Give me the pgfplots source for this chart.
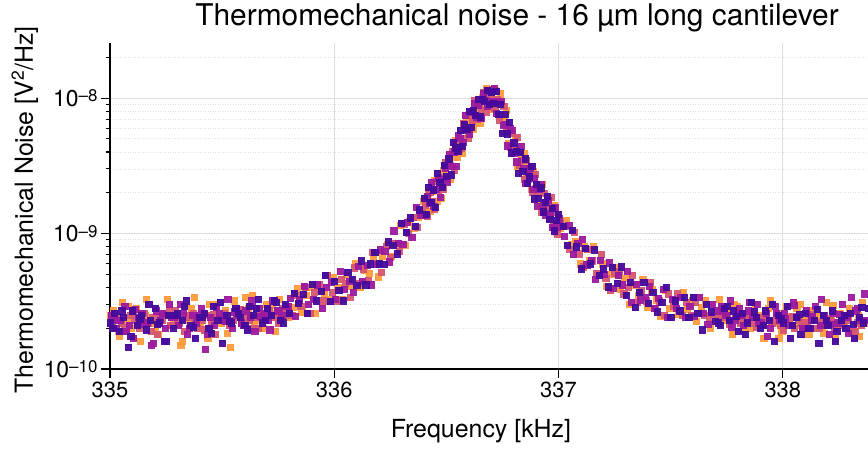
\documentclass[border=0pt]{standalone}
\usepackage{pgfplots}
\pgfplotsset{compat=1.18}
\usepackage{pgfplotstable}
\usepackage{fontspec}
\setmainfont{TeX Gyre Heros}
\definecolor{cP}{HTML}{440A9C}
\definecolor{cM}{HTML}{9C1A9E}
\definecolor{cK}{HTML}{D5566F}
\definecolor{cO}{HTML}{FD9B3C}
\definecolor{gmaj}{HTML}{DDDDDD}
\definecolor{gmin}{HTML}{E2E2E2}
\newcommand{\ysup}[1]{10\raisebox{4.5bp}{\fontsize{17}{17}\selectfont –#1}}
% values in units of 1e-10 V^2/Hz
\pgfplotstableread{
x y
335.00 2.2
335.02 2.6
335.04 1.9
335.06 2.4
335.08 1.45
335.10 2.7
335.12 2.1
335.14 2.5
335.16 1.95
335.18 2.3
335.20 2.8
335.22 2.2
335.24 1.6
335.26 2.5
335.28 2.0
335.30 2.6
335.32 2.3
335.34 3.2
335.36 2.1
335.38 1.7
335.40 2.4
335.42 2.6
335.44 2.0
335.46 2.9
335.48 2.3
335.50 1.55
335.52 2.5
335.54 2.2
335.56 2.8
335.58 2.4
335.60 2.1
335.62 2.9
335.64 2.5
335.66 3.3
335.68 2.2
335.70 2.8
335.72 2.5
335.74 3.1
335.76 2.3
335.78 3.0
335.80 2.6
335.82 3.65
335.84 3.05
335.86 3.55
335.88 2.6
335.90 4.25
335.92 3.2
335.94 3.75
335.96 4.9
335.98 3.15
336.00 4.45
336.02 3.8
336.04 3.2
336.06 5.2
336.08 4.6
336.10 4.15
336.12 6.3
336.14 4.2
336.16 6.0
336.18 7.25
336.20 6.0
336.22 5.95
336.24 8.7
336.26 8.2
336.28 7.1
336.30 12.0
336.32 10.3
336.34 13.1
336.36 11.3
336.38 15.0
336.40 18.3
336.41 14.0
336.42 21.9
336.43 17.0
336.44 21.1
336.45 15.6
336.46 28.0
336.47 24.0
336.48 22.0
336.49 32.1
336.50 26.6
336.51 35.7
336.52 27.2
336.53 47.0
336.54 43.1
336.55 40.5
336.56 58.3
336.57 44.0
336.58 63.8
336.59 59.2
336.60 80.6
336.61 60.9
336.62 81.0
336.63 74.4
336.64 98.6
336.65 73.0
336.66 98.6
336.67 95.1
336.68 114
336.69 89.9
336.70 110
336.71 92.1
336.72 112
336.73 75.7
336.74 90.4
336.75 55.3
336.76 75.6
336.77 54.7
336.78 66.6
336.79 39.5
336.80 46.9
336.81 40.4
336.82 28.1
336.83 39.8
336.84 28.7
336.85 35.7
336.86 23.5
336.87 26.3
336.88 31.4
336.89 18.1
336.90 23.3
336.91 18.2
336.92 21.8
336.93 14.5
336.94 17.1
336.95 18.9
336.96 12.8
336.97 15.4
336.98 10.5
336.99 12.5
337.00 13.9
337.02 11.4
337.04 8.2
337.06 10.6
337.08 8.0
337.10 5.5
337.12 7.8
337.14 6.0
337.16 7.6
337.18 4.9
337.20 5.5
337.22 4.05
337.24 5.65
337.26 4.3
337.28 5.7
337.30 3.5
337.32 4.35
337.34 2.85
337.36 3.7
337.38 4.35
337.40 3.05
337.42 3.7
337.44 2.65
337.46 3.1
337.48 4.0
337.50 2.4
337.52 3.2
337.54 2.7
337.56 3.4
337.58 2.4
337.60 3.4
337.62 2.6
337.64 1.95
337.66 3.0
337.68 2.65
337.70 2.25
337.72 2.1
337.74 2.8
337.76 2.3
337.78 2.7
337.80 1.9
337.82 2.6
337.84 2.2
337.86 3.1
337.88 2.4
337.90 2.0
337.92 2.7
337.94 2.3
337.96 1.6
337.98 2.5
338.00 2.2
338.02 2.9
338.04 2.1
338.06 2.4
338.08 1.8
338.10 2.6
338.12 2.0
338.14 2.3
338.16 1.55
338.18 2.5
338.20 2.1
338.22 2.7
338.24 1.9
338.26 2.3
338.28 2.0
338.30 2.6
338.32 1.7
338.34 2.4
338.36 2.2
338.38 2.8
338.40 2.1
335.012 2.0
335.052 2.7
335.092 1.75
335.132 2.35
335.172 3.0
335.212 2.15
335.252 1.6
335.292 2.5
335.332 2.9
335.372 2.05
335.412 2.4
335.452 1.85
335.492 3.1
335.532 2.25
335.572 2.6
335.612 1.95
335.652 2.8
335.692 2.3
335.732 3.2
335.772 2.2
337.712 2.2
337.752 2.9
337.792 2.45
337.832 1.8
337.872 2.65
337.912 2.1
337.952 3.0
337.992 2.35
338.032 1.7
338.072 2.55
338.112 2.0
338.152 2.75
338.192 2.3
338.232 1.6
338.272 2.5
338.312 2.15
338.352 2.85
338.392 1.9
}\tP
\pgfplotstableread{
x y
335.005 2.5
335.025 2.0
335.045 2.3
335.065 2.9
335.085 2.1
335.105 1.7
335.125 2.4
335.145 2.6
335.165 2.2
335.185 1.5
335.205 2.7
335.225 2.3
335.245 2.0
335.265 3.0
335.285 2.4
335.305 2.1
335.325 2.6
335.345 1.8
335.365 2.5
335.385 2.2
335.405 2.8
335.425 1.4
335.445 2.4
335.465 2.1
335.485 2.6
335.505 2.3
335.525 3.3
335.545 2.0
335.565 2.5
335.585 2.2
335.605 2.7
335.625 2.4
335.645 1.9
335.665 2.8
335.685 2.6
335.705 2.3
335.725 3.2
335.745 2.7
335.765 2.5
335.785 2.9
335.805 3.35
335.825 2.45
335.845 3.25
335.865 4.1
335.885 3.0
335.905 3.3
335.925 4.2
335.945 2.8
335.965 4.0
335.985 4.4
336.005 3.3
336.025 5.3
336.045 3.9
336.065 4.45
336.085 3.7
336.105 5.75
336.125 4.45
336.145 5.85
336.165 4.2
336.185 5.95
336.205 7.6
336.225 7.4
336.245 6.2
336.265 10.5
336.285 8.5
336.305 8.4
336.325 12.2
336.345 9.4
336.365 15.6
336.385 13.7
336.403 13.6
336.413 18.8
336.423 16.8
336.433 23.9
336.443 15.9
336.453 21.4
336.463 25.8
336.473 18.6
336.483 25.3
336.493 30.7
336.503 24.1
336.513 38.8
336.523 31.6
336.533 40.3
336.543 31.6
336.553 53.1
336.563 50.5
336.573 47.2
336.583 74.7
336.593 58.0
336.603 54.6
336.613 79.1
336.623 91.5
336.633 72.8
336.643 89.3
336.653 71.2
336.663 109
336.673 96.0
336.683 87.0
336.693 113
336.703 94.0
336.713 118
336.723 77.1
336.733 95.0
336.743 95.2
336.753 63.0
336.763 64.3
336.773 44.5
336.783 59.8
336.793 58.3
336.803 39.6
336.813 34.0
336.823 41.1
336.833 44.2
336.843 30.6
336.853 23.5
336.863 28.6
336.873 30.6
336.883 21.2
336.893 25.5
336.903 16.0
336.913 21.4
336.923 23.2
336.933 16.1
336.943 13.8
336.953 17.7
336.963 14.2
336.973 11.1
336.983 15.6
336.993 11.1
337.003 12.9
337.025 9.6
337.045 11.6
337.065 7.0
337.085 8.5
337.105 9.1
337.125 5.9
337.145 6.4
337.165 4.6
337.185 6.4
337.205 5.0
337.225 6.1
337.245 3.95
337.265 4.9
337.285 4.2
337.305 5.3
337.325 3.1
337.345 4.25
337.365 3.25
337.385 3.4
337.405 4.1
337.425 2.8
337.445 3.35
337.465 3.9
337.485 2.4
337.505 3.3
337.525 2.8
337.545 3.4
337.565 2.4
337.585 2.9
337.605 2.45
337.625 3.4
337.645 2.6
337.665 2.15
337.685 3.0
337.705 2.7
337.725 2.9
337.745 2.5
337.765 3.2
337.785 2.3
337.805 2.8
337.825 2.1
337.845 2.7
337.865 2.4
337.885 3.0
337.905 2.2
337.925 2.6
337.945 2.0
337.965 2.9
337.985 2.3
338.005 2.6
338.025 2.1
338.045 3.1
338.065 2.4
338.085 2.0
338.105 2.7
338.125 2.3
338.145 2.9
338.165 2.1
338.185 2.5
338.205 1.8
338.225 2.6
338.245 2.2
338.265 3.0
338.285 2.4
338.305 3.4
338.325 2.7
338.345 2.3
338.365 3.6
338.385 2.0
338.405 2.5
335.032 2.3
335.072 1.9
335.112 2.75
335.152 2.15
335.192 1.55
335.232 2.6
335.272 2.4
335.312 3.0
335.352 2.0
335.392 2.5
335.432 1.8
335.472 2.85
335.512 2.25
335.552 2.65
335.592 2.1
335.632 3.2
335.672 2.45
335.712 1.95
335.752 2.7
335.792 2.9
337.732 2.7
337.772 2.05
337.812 2.5
337.852 3.1
337.892 2.2
337.932 1.75
337.972 2.6
338.012 2.35
338.052 2.95
338.092 2.0
338.132 2.45
338.172 3.3
338.212 2.15
338.252 2.55
338.292 1.85
338.332 2.8
338.372 2.3
338.412 3.5
}\tM
\pgfplotstableread{
x y
335.01 2.1
335.03 2.4
335.05 2.2
335.07 1.9
335.09 2.5
335.11 2.3
335.13 2.0
335.15 2.6
335.17 2.2
335.19 2.4
335.21 1.8
335.23 2.3
335.25 2.5
335.27 2.1
335.29 2.7
335.31 2.2
335.33 1.9
335.35 2.4
335.37 2.6
335.39 2.0
335.41 2.3
335.43 2.5
335.45 2.2
335.47 1.8
335.49 2.4
335.51 2.6
335.53 2.1
335.55 2.3
335.57 2.7
335.59 2.2
335.61 2.5
335.63 2.0
335.65 2.4
335.67 2.6
335.69 2.3
335.71 2.7
335.73 2.4
335.75 2.2
335.77 2.8
335.79 2.5
335.81 2.5
335.83 3.5
335.85 2.9
335.87 4.0
335.89 2.6
335.91 3.7
335.93 4.2
335.95 3.2
335.97 4.9
335.99 3.7
336.01 3.2
336.03 4.6
336.05 4.3
336.07 3.4
336.09 5.6
336.11 4.3
336.13 5.5
336.15 4.5
336.17 7.3
336.19 6.0
336.21 5.2
336.23 8.1
336.25 6.7
336.27 8.5
336.29 7.4
336.31 11.7
336.33 10.1
336.35 13.3
336.37 11.2
336.39 14.3
336.405 16.3
336.415 13.5
336.425 20.3
336.435 17.2
336.445 15.2
336.455 24.4
336.465 21.1
336.475 25.9
336.485 21.3
336.495 33.7
336.505 25.5
336.515 31.9
336.525 40.5
336.535 29.6
336.545 45.9
336.555 42.3
336.565 42.6
336.575 65.7
336.585 57.6
336.595 50.6
336.605 74.8
336.615 67.2
336.625 96.8
336.635 70.4
336.645 91.0
336.655 81.9
336.665 110
336.675 78.6
336.685 109
336.695 100
336.705 117
336.715 84.3
336.725 97.8
336.735 68.6
336.745 90.4
336.755 87.5
336.765 56.7
336.775 60.4
336.785 43.7
336.795 55.0
336.805 40.9
336.815 51.2
336.825 32.2
336.835 34.7
336.845 25.2
336.855 34.8
336.865 25.1
336.875 28.1
336.885 20.2
336.895 27.6
336.905 20.4
336.915 21.2
336.925 14.5
336.935 19.8
336.945 14.6
336.955 15.6
336.965 18.5
336.975 11.8
336.985 14.4
336.995 9.9
337.005 12.2
337.03 11.4
337.05 7.7
337.07 10.3
337.09 7.1
337.11 5.7
337.13 7.7
337.15 6.3
337.17 5.1
337.19 7.0
337.21 4.7
337.23 3.8
337.25 5.1
337.27 5.3
337.29 3.6
337.31 4.0
337.33 4.9
337.35 3.1
337.37 3.8
337.39 3.2
337.41 4.4
337.43 2.8
337.45 3.2
337.47 2.5
337.49 3.6
337.51 2.9
337.53 3.6
337.55 2.5
337.57 3.1
337.59 2.5
337.61 3.1
337.63 2.6
337.65 2.5
337.67 2.4
337.69 2.5
337.71 2.3
337.73 2.5
337.75 2.4
337.77 2.3
337.79 2.4
337.81 2.2
337.83 2.4
337.85 2.3
337.87 2.2
337.89 2.4
337.91 2.1
337.93 2.3
337.95 2.2
337.97 2.4
337.99 2.1
338.01 2.3
338.03 2.2
338.05 2.0
338.07 2.3
338.09 2.1
338.11 2.2
338.13 2.4
338.15 2.0
338.17 2.2
338.19 2.1
338.21 2.3
338.23 2.0
338.25 2.2
338.27 2.1
338.29 2.3
338.31 1.9
338.33 2.2
338.35 2.1
338.37 2.3
338.39 2.0
338.41 2.2
335.022 2.35
335.062 2.05
335.102 2.6
335.142 2.25
335.182 1.9
335.222 2.45
335.262 2.7
335.302 2.15
335.342 2.5
335.382 2.3
335.422 1.95
335.462 2.55
335.502 2.4
335.542 2.1
335.582 2.75
335.622 2.3
335.662 2.0
335.702 2.6
335.742 2.45
335.782 2.8
337.722 2.4
337.762 2.15
337.802 2.6
337.842 2.3
337.882 2.05
337.922 2.5
337.962 2.25
338.002 1.95
338.042 2.45
338.082 2.2
338.122 2.55
338.162 2.0
338.202 2.35
338.242 2.15
338.282 2.45
338.322 1.9
338.362 2.3
338.402 2.1
}\tK
\pgfplotstableread{
x y
335.015 2.7
335.035 1.9
335.055 3.1
335.075 2.3
335.095 2.0
335.115 2.8
335.135 1.6
335.155 2.5
335.175 3.0
335.195 2.2
335.215 1.8
335.235 2.6
335.255 3.3
335.275 2.1
335.295 2.4
335.315 1.5
335.335 2.9
335.355 2.3
335.375 3.4
335.395 2.0
335.415 2.6
335.435 1.7
335.455 2.4
335.475 3.0
335.495 2.2
335.515 2.7
335.535 1.45
335.555 3.2
335.575 2.5
335.595 2.1
335.615 2.8
335.635 3.5
335.655 2.3
335.675 2.0
335.695 3.0
335.715 2.6
335.735 1.9
335.755 3.3
335.775 2.8
335.795 2.4
335.815 2.85
335.835 3.95
335.855 2.65
335.875 3.5
335.895 4.0
335.915 2.6
335.935 3.9
335.955 3.6
335.975 3.25
335.995 4.75
336.015 4.0
336.035 3.3
336.055 4.9
336.075 4.1
336.095 6.0
336.115 4.05
336.135 5.4
336.155 5.1
336.175 6.8
336.195 4.8
336.215 6.8
336.235 8.3
336.255 6.8
336.275 8.2
336.295 11.5
336.315 8.2
336.335 12.3
336.355 11.0
336.375 13.3
336.395 17.3
336.408 14.4
336.418 19.8
336.428 14.7
336.438 20.5
336.448 24.6
336.458 17.4
336.468 22.1
336.478 18.3
336.488 29.3
336.498 25.2
336.508 34.7
336.518 25.4
336.528 36.7
336.538 48.5
336.548 36.5
336.558 45.0
336.568 39.2
336.578 60.4
336.588 69.5
336.598 55.5
336.608 68.9
336.618 59.5
336.628 89.3
336.638 81.6
336.648 65.5
336.658 101
336.668 89.3
336.678 119
336.688 88.0
336.698 111
336.708 83.0
336.718 114
336.728 91.2
336.738 108
336.748 68.8
336.758 73.5
336.768 81.3
336.778 46.2
336.788 58.2
336.798 44.2
336.808 50.7
336.818 31.6
336.828 39.6
336.838 33.7
336.848 39.4
336.858 26.1
336.868 31.1
336.878 21.3
336.888 28.8
336.898 21.5
336.908 22.9
336.918 16.1
336.928 23.2
336.938 15.7
336.948 18.2
336.958 13.1
336.968 14.6
336.978 16.1
336.988 10.2
336.998 13.4
337.008 10.9
337.035 12.6
337.055 8.3
337.075 8.8
337.095 6.0
337.115 8.1
337.135 6.4
337.155 8.1
337.175 4.9
337.195 6.0
337.215 4.1
337.235 5.0
337.255 5.6
337.275 3.9
337.295 4.7
337.315 3.0
337.335 4.15
337.355 3.5
337.375 4.6
337.395 2.85
337.415 3.85
337.435 3.25
337.455 2.45
337.475 3.8
337.495 2.8
337.515 3.3
337.535 2.55
337.555 3.7
337.575 2.75
337.595 3.2
337.615 2.25
337.635 2.85
337.655 3.2
337.675 2.0
337.695 2.6
337.715 3.3
337.735 2.4
337.755 2.7
337.775 1.8
337.795 2.9
337.815 2.3
337.835 2.6
337.855 2.0
337.875 3.0
337.895 2.5
337.915 1.7
337.935 2.8
337.955 2.2
337.975 2.6
337.995 1.9
338.015 2.9
338.035 2.4
338.055 2.1
338.075 3.0
338.095 2.3
338.115 1.8
338.135 2.7
338.155 2.5
338.175 2.0
338.195 3.1
338.215 2.3
338.235 1.7
338.255 2.6
338.275 2.2
338.295 2.8
338.315 1.9
338.335 2.5
338.355 3.1
338.375 2.2
338.395 1.8
338.415 2.6
335.002 2.5
335.042 1.75
335.082 2.9
335.122 2.2
335.162 3.3
335.202 1.9
335.242 2.6
335.282 2.35
335.322 1.6
335.362 2.8
335.402 2.1
335.442 3.0
335.482 2.45
335.522 1.85
335.562 2.7
335.602 3.4
335.642 2.25
335.682 2.0
335.722 2.95
335.762 2.55
337.742 2.3
337.782 3.0
337.822 1.95
337.862 2.6
337.902 2.15
337.942 3.2
337.982 1.7
338.022 2.45
338.062 2.8
338.102 2.05
338.142 2.5
338.182 1.85
338.222 2.95
338.262 2.25
338.302 2.6
338.342 1.75
338.382 3.1
338.422 2.35
}\tO
\begin{document}
\begin{tikzpicture}
\begin{axis}[
  at={(110bp,81bp)}, anchor=south west,
  scale only axis, width=758bp, height=326bp,
  xmin=335, xmax=338.38, ymin=1e-10, ymax=2.55e-8,
  ymode=log,
  axis x line*=bottom, axis y line*=left,
  axis line style={line width=1.6bp, black},
  xtick={335,336,337,338}, xticklabels={335,336,337,338},
  minor x tick num=0,
  ytick={1e-10,1e-9,1e-8},
  yticklabels={\ysup{10},\ysup{9},\ysup{8}},
  minor ytick={2e-10,3e-10,4e-10,5e-10,6e-10,7e-10,8e-10,9e-10,2e-9,3e-9,4e-9,5e-9,6e-9,7e-9,8e-9,9e-9,2e-8},
  tick align=outside,
  major tick length=9bp, minor tick length=4.5bp,
  every tick/.style={black, line width=1.1bp},
  grid=both,
  major grid style={gmaj, line width=1.1bp, solid},
  minor grid style={gmin, line width=0.8bp, dash pattern=on 1bp off 1.5bp},
  xticklabel style={font=\fontsize{22}{26}\selectfont},
  yticklabel style={font=\fontsize{23}{26}\selectfont},
  every axis title shift=0pt,
  title={Thermomechanical noise - 16 µm long cantilever},
  title style={at={(axis description cs:0.537,1.0552)}, anchor=base, font=\fontsize{30}{34}\selectfont},
  xlabel={Frequency [kHz]},
  xlabel style={at={(axis description cs:0.4894,-0.2086)}, anchor=base, font=\fontsize{25}{30}\selectfont},
  ylabel={Thermomechanical Noise [V\textsuperscript{2}/Hz]},
  ylabel style={at={(axis description cs:-0.1016,0.488)}, rotate=0, anchor=base, font=\fontsize{25}{30}\selectfont},
  clip=true,
]
\addplot[only marks, mark=square*, mark size=3.1bp, color=cO, mark options={fill=cO, draw=cO, line width=0.3bp, opacity=0.95}] table[x=x, y expr=\thisrow{y}*1e-10] {\tO};
\addplot[only marks, mark=square*, mark size=3.1bp, color=cK, mark options={fill=cK, draw=cK, line width=0.3bp, opacity=0.95}] table[x=x, y expr=\thisrow{y}*1e-10] {\tK};
\addplot[only marks, mark=square*, mark size=3.1bp, color=cM, mark options={fill=cM, draw=cM, line width=0.3bp, opacity=0.95}] table[x=x, y expr=\thisrow{y}*1e-10] {\tM};
\addplot[only marks, mark=square*, mark size=3.1bp, color=cP, mark options={fill=cP, draw=cP, line width=0.3bp, opacity=0.95}] table[x=x, y expr=\thisrow{y}*1e-10] {\tP};
\end{axis}
\pgfresetboundingbox
\useasboundingbox (0,0) rectangle (868bp,450bp);
\end{tikzpicture}
\end{document}
